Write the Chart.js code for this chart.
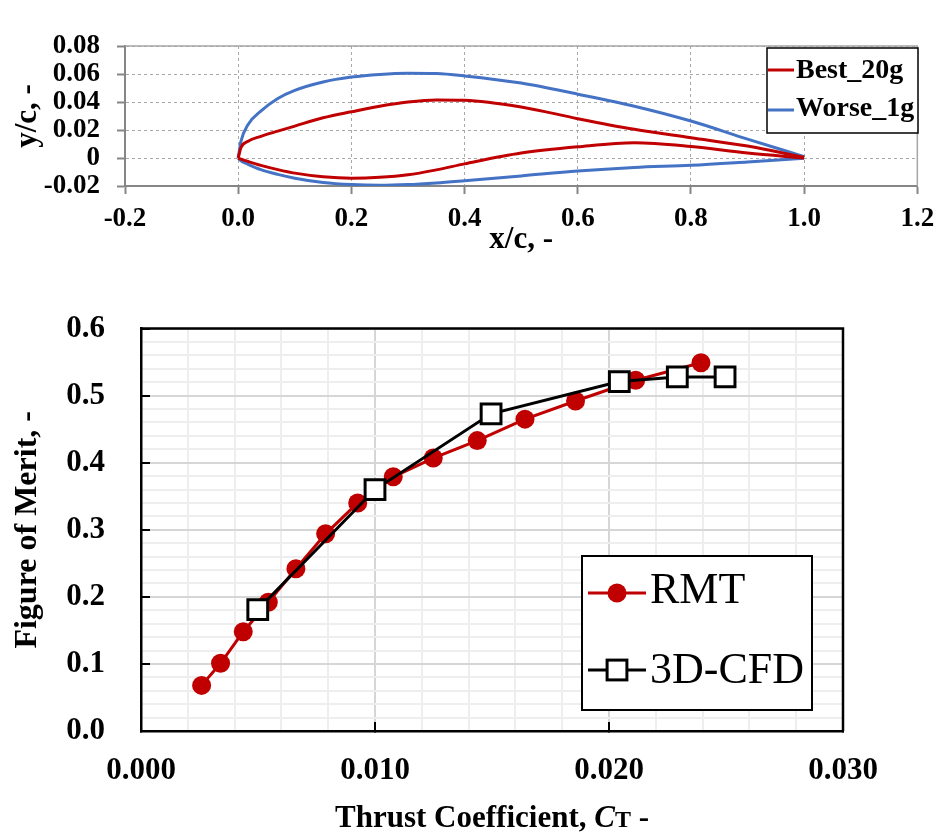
<!DOCTYPE html>
<html>
<head>
<meta charset="utf-8">
<title>Airfoil shapes and figure of merit</title>
<script src="https://cdn.jsdelivr.net/npm/chart.js@4.4.1/dist/chart.umd.min.js"></script>
<style>
    html, body { margin: 0; padding: 0; background: #fff; }
    #wrap { position: relative; width: 943px; height: 834px; }
    .box { position: absolute; left: 0; width: 943px; }
    #top { top: 0; height: 265px; }
    #bottom { top: 265px; height: 569px; }
</style>
</head>
<body>
<div id="wrap">
    <div class="box" id="top"><canvas id="airfoilChart"></canvas></div>
    <div class="box" id="bottom"><canvas id="meritChart"></canvas></div>
</div>
<script>
const SERIF = '"Liberation Serif", "Times New Roman", serif';

// airfoil outlines, y/c at shared x/c stations
const stations   = [0, 0.005, 0.0175, 0.04, 0.07, 0.1, 0.15, 0.2, 0.25, 0.3, 0.35, 0.4, 0.5, 0.6, 0.7, 0.8, 0.9, 1.0];
const bestUpper  = [0, 0.0075, 0.012, 0.0155, 0.0192, 0.0228, 0.0287, 0.033, 0.037, 0.040, 0.0415, 0.0413, 0.0365, 0.0281, 0.0205, 0.0145, 0.0085, 0.0005];
const bestLower  = [0, -0.0008, -0.0025, -0.0053, -0.0083, -0.0108, -0.0134, -0.0144, -0.0138, -0.012, -0.0085, -0.0042, 0.0035, 0.008, 0.0109, 0.0082, 0.0035, 0];
const worseUpper = [0, 0.012, 0.024, 0.0335, 0.0425, 0.0483, 0.0543, 0.0578, 0.0597, 0.0605, 0.0603, 0.0586, 0.0535, 0.0456, 0.037, 0.0264, 0.0135, 0.001];
const worseLower = [0, -0.002, -0.0045, -0.0083, -0.0117, -0.0144, -0.0175, -0.019, -0.0195, -0.019, -0.0178, -0.0162, -0.0128, -0.0093, -0.0068, -0.0052, -0.0028, -0.0002];
const airfoilXLabels = ['-0.2', '0.0', '0.2', '0.4', '0.6', '0.8', '1.0', '1.2'];
const airfoilYLabels = ['-0.02', '0', '0.02', '0.04', '0.06', '0.08'];

// figure of merit vs thrust coefficient
const ctRmt  = [0.00259, 0.00340, 0.00437, 0.00544, 0.00662, 0.00789, 0.00926, 0.01078, 0.01249, 0.01437, 0.01641, 0.01857, 0.02114, 0.02393];
const fomRmt = [0.068, 0.101, 0.148, 0.192, 0.242, 0.294, 0.340, 0.379, 0.407, 0.433, 0.465, 0.492, 0.523, 0.549];
const ctCfd  = [0.00499, 0.0100, 0.01496, 0.02044, 0.02292, 0.02496];
const fomCfd = [0.181, 0.360, 0.473, 0.521, 0.528, 0.528];
const ctLabels  = ['0.000', '0.010', '0.020', '0.030'];
const fomLabels = ['0.0', '0.1', '0.2', '0.3', '0.4', '0.5', '0.6'];

const surface = ys => stations.map((x, i) => ({ x, y: ys[i] }));

// top and right edges of the plot area
const plotFrame = {
    id: 'plotFrame',
    afterDraw(chart, args, opts) {
        const { ctx, chartArea: a } = chart;
        ctx.save();
        ctx.strokeStyle = opts.color;
        ctx.lineWidth = opts.width;
        ctx.beginPath();
        ctx.moveTo(a.left, a.top);
        ctx.lineTo(a.right, a.top);
        ctx.lineTo(a.right, a.bottom);
        ctx.stroke();
        ctx.restore();
    }
};

// boxed legend inside the plot
const boxLegend = {
    id: 'boxLegend',
    afterDraw(chart, args, opts) {
        const ctx = chart.ctx;
        ctx.save();
        ctx.fillStyle = '#fff';
        ctx.fillRect(opts.x, opts.y, opts.w, opts.h);
        ctx.strokeStyle = '#000';
        ctx.lineWidth = opts.borderWidth;
        ctx.strokeRect(opts.x, opts.y, opts.w, opts.h);
        const entries = chart.data.datasets.filter(ds => ds.label);
        entries.forEach((ds, i) => {
            const y = opts.rows[i];
            ctx.strokeStyle = ds.borderColor;
            ctx.lineWidth = ds.borderWidth;
            ctx.beginPath();
            ctx.moveTo(opts.lineFrom, y);
            ctx.lineTo(opts.lineTo, y);
            ctx.stroke();
            const cx = (opts.lineFrom + opts.lineTo) / 2;
            if (ds.pointStyle === 'circle') {
                ctx.fillStyle = ds.pointBackgroundColor;
                ctx.beginPath();
                ctx.arc(cx, y, ds.pointRadius, 0, Math.PI * 2);
                ctx.fill();
            } else if (ds.pointStyle === 'rect') {
                const s = ds.pointRadius * Math.SQRT1_2;
                ctx.fillStyle = ds.pointBackgroundColor;
                ctx.lineWidth = ds.pointBorderWidth;
                ctx.fillRect(cx - s, y - s, 2 * s, 2 * s);
                ctx.strokeRect(cx - s, y - s, 2 * s, 2 * s);
            }
            ctx.fillStyle = '#000';
            ctx.font = opts.font;
            ctx.textBaseline = 'middle';
            ctx.textAlign = 'left';
            ctx.fillText(ds.label, opts.textX, opts.textRows[i]);
        });
        ctx.restore();
    }
};

// x title with italic C and smaller T
const mixedTitle = {
    id: 'mixedTitle',
    afterDraw(chart, args, opts) {
        const { ctx, chartArea: a } = chart;
        ctx.save();
        ctx.fillStyle = '#000';
        ctx.textBaseline = 'alphabetic';
        ctx.textAlign = 'left';
        let total = 0;
        opts.parts.forEach(p => { ctx.font = p.font; total += ctx.measureText(p.text).width; });
        let x = (a.left + a.right) / 2 - total / 2;
        opts.parts.forEach(p => {
            ctx.font = p.font;
            ctx.fillText(p.text, x, opts.baseline);
            x += ctx.measureText(p.text).width;
        });
        ctx.restore();
    }
};

Chart.defaults.font.family = SERIF;
Chart.defaults.color = '#000';

const foilLine = (label, ys, color) => ({
    label,
    data: surface(ys),
    showLine: true,
    borderColor: color,
    borderWidth: 3,
    pointRadius: 0,
    cubicInterpolationMode: 'monotone'
});

new Chart(document.getElementById('airfoilChart'), {
    type: 'scatter',
    data: {
        datasets: [
            foilLine('Best_20g', bestUpper, '#C00000'),
            foilLine('', bestLower, '#C00000'),
            foilLine('Worse_1g', worseUpper, '#4472C4'),
            foilLine('', worseLower, '#4472C4')
        ]
    },
    options: {
        responsive: true,
        maintainAspectRatio: false,
        animation: false,
        devicePixelRatio: 1,
        layout: { padding: { top: 46, right: 19, left: 0, bottom: 0 } },
        plugins: {
            legend: { display: false },
            tooltip: { enabled: false },
            plotFrame: { color: '#a6a6a6', width: 1.5 },
            boxLegend: {
                x: 767, y: 48, w: 151, h: 85, borderWidth: 1.5,
                rows: [70, 110], textRows: [71, 109],
                lineFrom: 768, lineTo: 794, textX: 796,
                font: 'bold 28px ' + SERIF
            }
        },
        scales: {
            x: {
                type: 'linear',
                min: -0.2,
                max: 1.2,
                afterFit: s => { s.height = 79; },
                ticks: {
                    stepSize: 0.2,
                    maxRotation: 0,
                    minRotation: 0,
                    autoSkip: false,
                    padding: 8.8,
                    font: { size: 27, weight: 'bold' },
                    callback: v => airfoilXLabels[Math.round((v + 0.2) / 0.2)]
                },
                grid: { color: '#a8a8a8', lineWidth: 1, tickLength: 8, tickColor: '#868686', tickWidth: 2 },
                border: { color: '#868686', width: 2, dash: [3, 3] },
                title: { display: true, text: 'x/c, -', font: { size: 31, weight: 'bold' }, padding: { top: 0, bottom: 6 } }
            },
            y: {
                type: 'linear',
                min: -0.02,
                max: 0.08,
                afterFit: s => { s.width = 125; },
                ticks: {
                    stepSize: 0.02,
                    autoSkip: false,
                    padding: 17,
                    font: { size: 27, weight: 'bold' },
                    callback: v => airfoilYLabels[Math.round((v + 0.02) / 0.02)]
                },
                grid: { color: '#a8a8a8', lineWidth: 1, tickLength: 8, tickColor: '#868686', tickWidth: 2 },
                border: { color: '#868686', width: 2, dash: [3, 3] },
                title: { display: true, text: 'y/c, -', font: { size: 31, weight: 'bold' }, padding: { top: 9, bottom: 0 } }
            }
        }
    },
    plugins: [plotFrame, boxLegend]
});

const isMajorCt = v => Math.round(v / 0.002) % 5 === 0;
const isMajorFom = v => Math.round(v / 0.02) % 5 === 0;

new Chart(document.getElementById('meritChart'), {
    type: 'scatter',
    data: {
        datasets: [{
            label: 'RMT',
            data: ctRmt.map((x, i) => ({ x, y: fomRmt[i] })),
            showLine: true,
            borderColor: '#C00000',
            borderWidth: 3,
            pointStyle: 'circle',
            pointRadius: 9.5,
            pointBorderWidth: 0,
            pointBackgroundColor: '#C00000',
            pointBorderColor: '#C00000',
            order: 1
        }, {
            label: '3D-CFD',
            data: ctCfd.map((x, i) => ({ x, y: fomCfd[i] })),
            showLine: true,
            borderColor: '#000',
            borderWidth: 3,
            pointStyle: 'rect',
            pointRadius: 14,
            pointBorderWidth: 3,
            pointBackgroundColor: '#fff',
            pointBorderColor: '#000',
            order: 0
        }]
    },
    options: {
        responsive: true,
        maintainAspectRatio: false,
        animation: false,
        devicePixelRatio: 1,
        layout: { padding: { top: 57, right: 100, left: 0, bottom: 0 } },
        plugins: {
            legend: { display: false },
            tooltip: { enabled: false },
            plotFrame: { color: '#000', width: 2.5 },
            boxLegend: {
                x: 582, y: 291, w: 230, h: 154, borderWidth: 2,
                rows: [328, 405], textRows: [326, 406],
                lineFrom: 588, lineTo: 646, textX: 650,
                font: '44px ' + SERIF
            },
            mixedTitle: {
                baseline: 562,
                parts: [
                    { text: 'Thrust Coefficient, ', font: 'bold 31px ' + SERIF },
                    { text: 'C', font: 'italic bold 31px ' + SERIF },
                    { text: 'T', font: 'bold 24px ' + SERIF },
                    { text: ' -', font: 'bold 31px ' + SERIF }
                ]
            }
        },
        scales: {
            x: {
                type: 'linear',
                min: 0,
                max: 0.03,
                afterFit: s => { s.height = 103; },
                ticks: {
                    stepSize: 0.002,
                    maxTicksLimit: 100,
                    maxRotation: 0,
                    minRotation: 0,
                    autoSkip: false,
                    padding: 30.5,
                    font: { size: 31, weight: 'bold' },
                    callback: v => isMajorCt(v) ? ctLabels[Math.round(v / 0.01)] : ''
                },
                grid: {
                    lineWidth: 2,
                    color: c => isMajorCt(c.tick.value) ? '#d6d6d6' : '#eeeeee',
                    tickLength: -9,
                    tickWidth: 2,
                    tickColor: c => isMajorCt(c.tick.value) ? '#000' : 'rgba(0,0,0,0)'
                },
                border: { color: '#000', width: 2.5 }
            },
            y: {
                type: 'linear',
                min: 0,
                max: 0.6,
                afterFit: s => { s.width = 141; },
                ticks: {
                    stepSize: 0.02,
                    maxTicksLimit: 100,
                    autoSkip: false,
                    padding: 45,
                    font: { size: 31, weight: 'bold' },
                    callback: v => isMajorFom(v) ? fomLabels[Math.round(v / 0.1)] : ''
                },
                grid: {
                    lineWidth: 2,
                    color: c => isMajorFom(c.tick.value) ? '#d6d6d6' : '#eeeeee',
                    tickLength: -9,
                    tickWidth: 2,
                    tickColor: c => isMajorFom(c.tick.value) ? '#000' : 'rgba(0,0,0,0)'
                },
                border: { color: '#000', width: 2.5 },
                title: { display: true, text: 'Figure of Merit, -', font: { size: 32, weight: 'bold' }, padding: { top: 9, bottom: 0 } }
            }
        }
    },
    plugins: [plotFrame, boxLegend, mixedTitle]
});
</script>
</body>
</html>
